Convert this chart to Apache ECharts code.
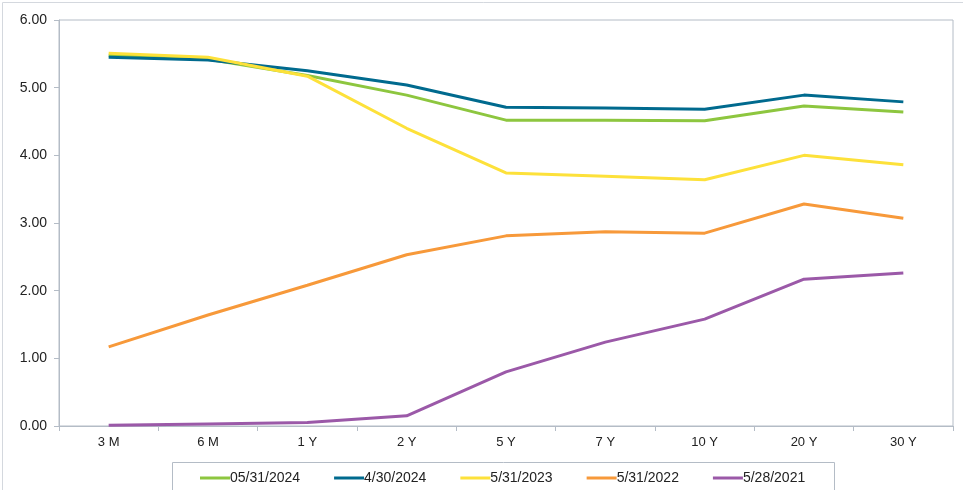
<!DOCTYPE html>
<html><head><meta charset="utf-8">
<script src="https://cdn.jsdelivr.net/npm/echarts@6/dist/echarts.min.js"></script>
<style>html,body{margin:0;padding:0;background:#fff}#c{width:963px;height:490px}</style>
</head><body><div id="c"></div>
<script>
const categories = ['3 M','6 M','1 Y','2 Y','5 Y','7 Y','10 Y','20 Y','30 Y'];
const s2024_05 = [5.48,5.42,5.18,4.89,4.52,4.52,4.51,4.73,4.64];
const s2024_04 = [5.45,5.41,5.25,5.04,4.71,4.70,4.68,4.89,4.79];
const s2023 = [5.51,5.45,5.17,4.40,3.74,3.69,3.64,4.00,3.86];
const s2022 = [1.17,1.64,2.08,2.53,2.81,2.87,2.85,3.28,3.07];
const s2021 = [0.01,0.03,0.05,0.15,0.80,1.24,1.58,2.17,2.26];
const names = ['05/31/2024','4/30/2024','5/31/2023','5/31/2022','5/28/2021'];
const colors = ['#8dc63f','#006a8e','#fde13a','#f7993a','#9b59a8'];
const data = [s2024_05,s2024_04,s2023,s2022,s2021];
const series = names.map((n,i)=>({
  name:n,type:'line',data:data[i],symbol:'none',
  lineStyle:{width:3,color:colors[i]},itemStyle:{color:colors[i]},
  z: i===2?4:(i===1?3:2)
}));
const chart = echarts.init(document.getElementById('c'));
chart.setOption({
  animation:false,
  color:colors,
  grid:{left:59,right:10,top:20,bottom:64,show:true,borderColor:'#b4bcc6',borderWidth:1},
  graphic:[
    {type:'rect',shape:{x:2.5,y:2.5,width:970,height:500},style:{fill:'none',stroke:'#d4d8de',lineWidth:1},silent:true},
    {type:'rect',shape:{x:172.5,y:462.5,width:662,height:40},style:{fill:'#fff',stroke:'#b4bcc6',lineWidth:1},silent:true,z:0}
  ],
  legend:{data:names,left:195,top:466,itemWidth:30,itemHeight:3,itemGap:34,icon:'rect',
    textStyle:{fontFamily:'Liberation Sans, Arial',fontSize:14,color:'#222',padding:[0,0,0,-5]}},
  xAxis:{type:'category',data:categories,boundaryGap:true,
    axisLine:{lineStyle:{color:'#b4bcc6'}},
    axisTick:{show:true,length:5,lineStyle:{color:'#b4bcc6'}},
    axisLabel:{fontFamily:'Liberation Sans, Arial',fontSize:13,color:'#222',margin:10}},
  yAxis:{type:'value',min:0,max:6,interval:1,
    splitLine:{show:false},
    axisLine:{show:true,lineStyle:{color:'#b4bcc6'}},
    axisTick:{show:true,length:5,lineStyle:{color:'#b4bcc6'}},
    axisLabel:{fontFamily:'Liberation Sans, Arial',fontSize:14,color:'#222',margin:12,formatter:v=>v.toFixed(2)}},
  series:series
});
</script></body></html>
